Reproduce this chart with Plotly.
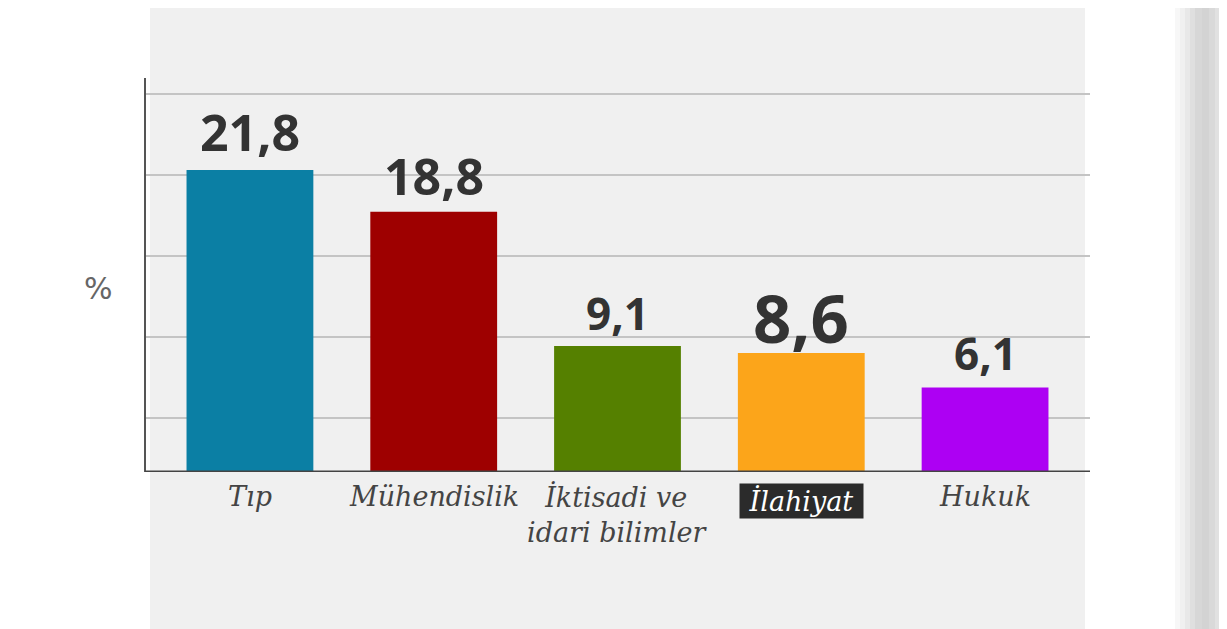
import plotly.graph_objects as go

categories = ["Tıp", "Mühendislik", "İktisadi ve<br>idari bilimler", "İlahiyat", "Hukuk"]
values = [21.8, 18.8, 9.1, 8.6, 6.1]
value_labels = ["21,8", "18,8", "9,1", "8,6", "6,1"]
colors = ["#0b7fa4", "#9e0000", "#558000", "#fca51a", "#ad00f3"]
label_sizes = [50, 50, 44, 67, 44]
label_shifts = [2, 0, 1, -12, 3]

x_idx = list(range(len(categories)))

# figure geometry (page has an 8px body margin)
W, H = 1219, 621
ML, MR, MT, MB = 137, 137, 70, 157
PW = W - ML - MR


def px_to_paper_x(px):
    return (px - 8 - ML) / PW


fig = go.Figure()
fig.add_trace(go.Bar(
    x=x_idx, y=values, marker=dict(color=colors, line=dict(width=0)),
    width=0.69, hoverinfo="skip",
))

annotations = []
for i, (v, lab, s, sh) in enumerate(zip(values, value_labels, label_sizes, label_shifts)):
    annotations.append(dict(
        x=i, y=v, xref="x", yref="y", text=f"<b>{lab}</b>", showarrow=False,
        yanchor="bottom", yshift=sh,
        font=dict(family="Open Sans", size=s, color="#333333"),
    ))
for i, c in enumerate(categories):
    hl = (i == 3)
    txt = f"<i>&nbsp;{c}&nbsp;</i>" if hl else f"<i>{c}</i>"
    annotations.append(dict(
        x=i, y=0, xref="x", yref="y", text=txt, showarrow=False,
        yanchor="top", yshift=-7 if not hl else -11,
        font=dict(family="DejaVu Serif", size=27, color="#ffffff" if hl else "#444444"),
        bgcolor="#2b2b2b" if hl else "rgba(0,0,0,0)", borderpad=1,
        align="center",
    ))
annotations.append(dict(
    x=0, y=0.465, xref="paper", yref="paper", xanchor="right", xshift=-30,
    text="%", showarrow=False, font=dict(family="DejaVu Sans", size=30, color="#666666"),
))

shapes = [
    # blurred page region behind the chart
    dict(type="rect", xref="paper", yref="paper", x0=px_to_paper_x(150), x1=px_to_paper_x(1085),
         y0=-0.6, y1=1.3, fillcolor="#f0f0f0", line=dict(width=0), layer="below"),
]
# right-hand page shadow
shadow = [(1175, "#f7f7f7"), (1180, "#f0f0f0"), (1185, "#e8e8e8"), (1190, "#dfdfdf"),
          (1195, "#d7d7d7"), (1202, "#d3d3d3"), (1209, "#d9d9d9"), (1215, "#e1e1e1"),
          (1221, "#e8e8e8")]
for k, (x0, col) in enumerate(shadow):
    x1 = shadow[k + 1][0] if k + 1 < len(shadow) else 1240
    shapes.append(dict(type="rect", xref="paper", yref="paper",
                       x0=px_to_paper_x(x0), x1=px_to_paper_x(x1), y0=-0.6, y1=1.3,
                       fillcolor=col, line=dict(width=0), layer="below"))
shapes += [
    dict(type="line", xref="paper", yref="paper", x0=0, x1=0, y0=0, y1=1,
         line=dict(color="#555555", width=2)),
    dict(type="line", xref="paper", yref="y", x0=0, x1=1, y0=0, y1=0,
         line=dict(color="#444444", width=3)),
]

fig.update_layout(
    width=W, height=H,
    margin=dict(l=ML, r=MR, t=MT, b=MB),
    paper_bgcolor="#ffffff", plot_bgcolor="rgba(0,0,0,0)",
    showlegend=False,
    annotations=annotations, shapes=shapes,
    xaxis=dict(range=[-0.571, 4.571], showticklabels=False, showgrid=False,
               zeroline=False, showline=False, ticks=""),
    yaxis=dict(range=[0, 28.45], showticklabels=False, showgrid=True,
               gridcolor="#c4c4c4", gridwidth=1.5, tick0=3.9, dtick=5.85,
               zeroline=False, showline=False, ticks=""),
)

fig.write_html("out.html")
